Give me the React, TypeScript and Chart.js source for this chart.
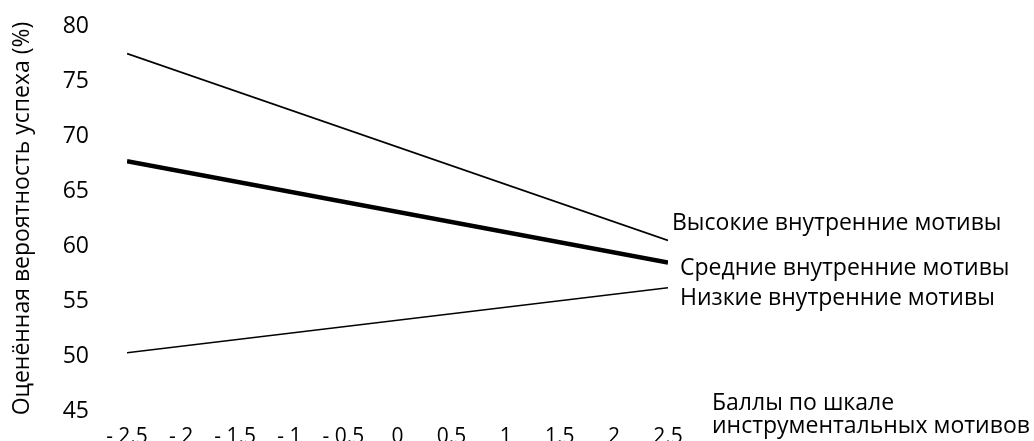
import React, { useEffect, useRef } from "react";
import { Chart, registerables } from "chart.js";

Chart.register(...registerables);

const xValues = [-2.5, 2.5];
const xTickLabels = ["- 2.5", "- 2", "- 1.5", "- 1", "- 0.5", "0", "0.5", "1", "1.5", "2", "2,5"];
const seriesNames = ["Высокие внутренние мотивы", "Средние внутренние мотивы", "Низкие внутренние мотивы"];
const highValues = [77.5, 60.5];
const midValues = [67.7, 58.5];
const lowValues = [50.3, 56.2];
const yAxisTitle = "Оценённая вероятность успеха (%)";
const xAxisTitle = ["Баллы по шкале", "инструментальных мотивов"];

const FONT = "'Open Sans', 'DejaVu Sans', sans-serif";

const labelPlugin = {
  id: "sideLabels",
  afterDatasetsDraw(chart: any) {
    const { ctx, chartArea } = chart;
    const yScale = chart.scales.y;
    ctx.save();
    ctx.fillStyle = "#000";
    ctx.font = `23px ${FONT}`;
    ctx.textAlign = "left";
    ctx.textBaseline = "middle";
    const offsets = [
      { dx: 4, dy: -17 },
      { dx: 12, dy: 6 },
      { dx: 12, dy: 11 },
    ];
    const sets = [highValues, midValues, lowValues];
    sets.forEach((vals, i) => {
      const y = yScale.getPixelForValue(vals[vals.length - 1]);
      ctx.fillText(seriesNames[i], chartArea.right + offsets[i].dx, y + offsets[i].dy);
    });
    ctx.fillText(xAxisTitle[0], chartArea.right + 44, chartArea.bottom - 8);
    ctx.fillText(xAxisTitle[1], chartArea.right + 44, chartArea.bottom + 15);
    ctx.restore();
  },
};

export default function App() {
  const ref = useRef<HTMLCanvasElement>(null);
  useEffect(() => {
    if (!ref.current) return;
    const mk = (vals: number[]) => xValues.map((x, i) => ({ x, y: vals[i] }));
    const chart = new Chart(ref.current, {
      type: "line",
      data: {
        datasets: [
          { label: seriesNames[0], data: mk(highValues), borderColor: "#000", borderWidth: 1.8, pointRadius: 0, fill: false },
          { label: seriesNames[1], data: mk(midValues), borderColor: "#000", borderWidth: 4.5, pointRadius: 0, fill: false },
          { label: seriesNames[2], data: mk(lowValues), borderColor: "#000", borderWidth: 1.6, pointRadius: 0, fill: false },
        ],
      },
      options: {
        animation: false,
        responsive: true,
        maintainAspectRatio: false,
        layout: { padding: { top: 26, right: 366, left: 0, bottom: 0 } },
        plugins: { legend: { display: false }, tooltip: { enabled: false } },
        scales: {
          x: {
            type: "linear",
            min: -2.5,
            max: 2.5,
            grid: { display: false, drawTicks: false },
            border: { display: false },
            afterFit: (axis: any) => {
              axis.height = 30;
              axis.paddingLeft = 0;
              axis.paddingRight = 0;
            },
            afterBuildTicks: (axis: any) => {
              axis.ticks = xTickLabels.map((_, i) => ({ value: -2.5 + i * 0.5 }));
            },
            ticks: {
              color: "#000",
              font: { family: FONT, size: 21 },
              padding: 13,
              maxRotation: 0,
              autoSkip: false,
              callback: (_v: any, i: number) => xTickLabels[i],
            },
          },
          y: {
            min: 45,
            max: 80,
            grid: { display: false, drawTicks: false },
            border: { display: false },
            afterFit: (axis: any) => {
              axis.width = 127;
              axis.paddingTop = 0;
              axis.paddingBottom = 0;
            },
            ticks: {
              stepSize: 5,
              color: "#000",
              font: { family: FONT, size: 23 },
              padding: 38,
            },
            title: {
              display: true,
              text: yAxisTitle,
              color: "#000",
              font: { family: FONT, size: 23 },
              padding: { top: 9, bottom: 0 },
            },
          },
        },
      },
      plugins: [labelPlugin],
    });
    return () => chart.destroy();
  }, []);
  return (
    <div style={{ position: "absolute", left: 0, top: 0, width: 1034, height: 441 }}>
      <canvas ref={ref} />
    </div>
  );
}
